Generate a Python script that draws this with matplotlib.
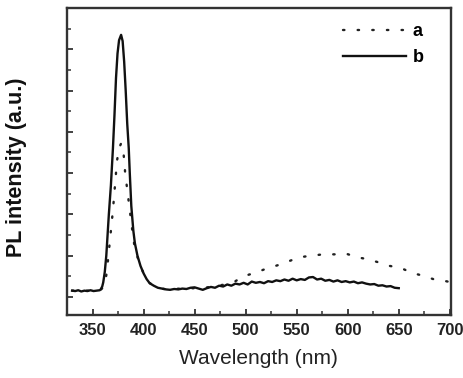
import matplotlib
matplotlib.use("Agg")
from matplotlib import pyplot as plt
from matplotlib.ticker import MultipleLocator

# curve b (solid)
b_x = [330, 333, 336, 339, 342, 345, 348, 351, 354, 357,
       358, 359.5, 360.5, 362, 363.5, 364.5, 366, 368, 370, 371.5, 373, 374.5, 376, 378,
       379.5, 381, 382.5, 384, 385.5, 386.5, 388, 390, 391.5, 394, 397, 400, 403, 406,
       410, 414, 418, 422, 426, 430, 434, 438, 442, 446, 450, 454, 458, 462, 466, 470,
       474, 478, 482, 486, 490, 494, 498, 502, 506, 510, 514, 518, 522, 526, 530, 534,
       538, 542, 546, 550, 554, 558, 562, 566, 570, 574, 578, 582, 586, 590, 594, 598,
       602, 606, 610, 614, 618, 622, 626, 630, 634, 638, 642, 646, 650]
b_y = [0.15, 0.14, 0.16, 0.13, 0.15, 0.14, 0.16, 0.14, 0.15, 0.16,
       0.18, 0.25, 0.35, 0.6, 1.0, 1.4, 2.0, 2.7, 3.6, 4.4, 5.3, 5.9, 6.22, 6.35,
       6.2, 5.7, 5.0, 4.2, 3.6, 3.0, 2.2, 1.6, 1.3, 1.0, 0.75, 0.57, 0.43, 0.33,
       0.27, 0.22, 0.2, 0.18, 0.17, 0.19, 0.18, 0.2, 0.19, 0.22, 0.23, 0.2, 0.17, 0.21, 0.24, 0.22,
       0.27, 0.25, 0.3, 0.27, 0.32, 0.3, 0.34, 0.3, 0.37, 0.34, 0.36, 0.33, 0.38, 0.36, 0.4, 0.38,
       0.42, 0.39, 0.44, 0.4, 0.43, 0.41, 0.47, 0.48, 0.42, 0.44, 0.39, 0.41, 0.37, 0.4, 0.36, 0.38,
       0.35, 0.37, 0.33, 0.35, 0.32, 0.3, 0.31, 0.27, 0.28, 0.25, 0.26, 0.22, 0.21]

# curve a (dotted)
a_x = [330, 340, 350, 358, 360, 362, 364, 366, 368, 370, 372, 374, 376, 378,
       380, 382, 384, 386, 388, 390, 392, 395, 398, 401, 405, 410, 415, 420, 440,
       460, 480, 490, 498, 509, 521, 532, 543, 553, 565, 576, 587, 598, 609, 620,
       631, 641, 652, 663, 674, 685, 696, 700]
a_y = [0.15, 0.15, 0.15, 0.17, 0.22, 0.3, 0.6, 1.1, 1.6, 2.1, 2.7, 3.3, 3.6, 3.72,
       3.6, 3.0, 2.6, 2.2, 1.8, 1.4, 1.1, 0.9, 0.7, 0.5, 0.35, 0.27, 0.22, 0.19, 0.2,
       0.22, 0.3, 0.38, 0.5, 0.58, 0.69, 0.77, 0.87, 0.96, 1.0, 1.03, 1.03, 1.05, 0.96, 0.91,
       0.83, 0.75, 0.70, 0.58, 0.51, 0.42, 0.38, 0.36]

fig = plt.figure(figsize=(4.63, 3.78), dpi=100)
ax = fig.add_axes([0.1447, 0.1667, 0.829, 0.812])

ax.plot(a_x, a_y, color='#222222', lw=1.7, linestyle=(0, (0.6, 5.6)),
        dash_capstyle='round', label='a')
ax.plot(b_x, b_y, color='#111111', lw=1.7, label='b')

ax.set_xlim(325, 701)
ax.set_ylim(-0.44, 7.0)
ax.xaxis.set_major_locator(MultipleLocator(50))
ax.xaxis.set_minor_locator(MultipleLocator(25))
ax.yaxis.set_major_locator(MultipleLocator(1))
ax.yaxis.set_minor_locator(MultipleLocator(0.5))
ax.tick_params(which='both', direction='in', top=False, right=False, color='#333333')
ax.tick_params(which='major', length=4.5, width=1.3)
ax.tick_params(which='minor', length=2.8, width=1.1)
ax.tick_params(axis='x', labelsize=12, pad=6)
for lab in ax.get_xticklabels():
    lab.set_fontweight('bold')
    lab.set_family('Liberation Sans')
    lab.set_color('#222222')
ax.set_yticklabels([])
for s in ax.spines.values():
    s.set_linewidth(1.7)
    s.set_color('#333333')

ax.set_xlabel('Wavelength (nm)', fontsize=15, family='Liberation Sans',
              color='#222222', labelpad=8)
ax.set_ylabel('PL intensity (a.u.)', fontsize=15.5, fontweight='bold',
              family='Liberation Sans', color='#111111')
ax.yaxis.set_label_coords(-0.104, 0.48)

leg = ax.legend(loc='upper right', bbox_to_anchor=(0.948, 0.975), frameon=False,
                handlelength=3.5, handletextpad=0.35, labelspacing=0.5,
                borderaxespad=0,
                prop={'family': 'Liberation Sans', 'weight': 'bold', 'size': 13})

fig.savefig('out.png', dpi=100)
